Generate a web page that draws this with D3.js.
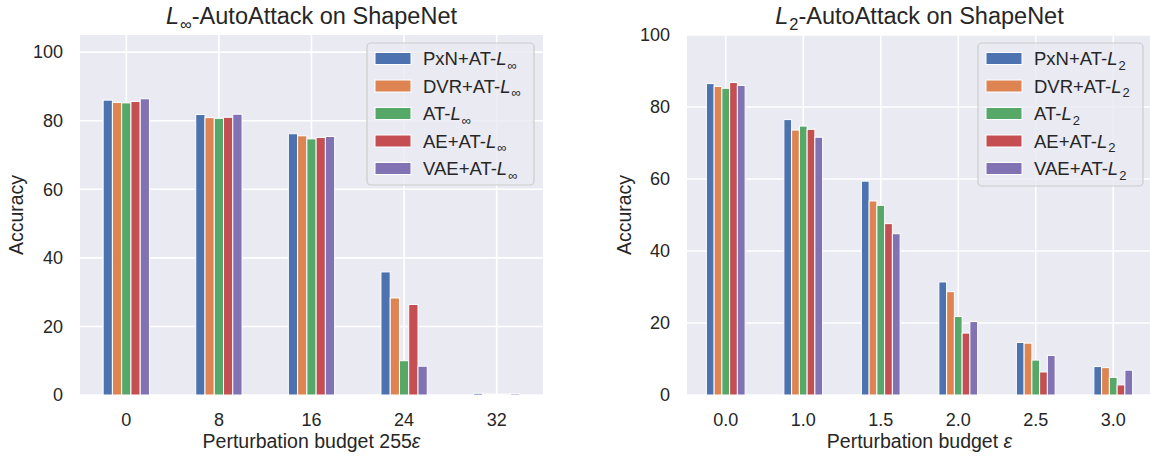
<!DOCTYPE html>
<html lang="en">
<head>
<meta charset="UTF-8">
<title>AutoAttack on ShapeNet</title>
<script src="https://d3js.org/d3.v7.min.js"></script>
<style>
    body { margin: 0; padding: 0; background: white; }
    svg { display: block; font-family: "Liberation Sans", Arial, sans-serif; }
</style>
</head>
<body>
<svg id="chart" width="1150" height="458"></svg>
<script>
// data
const series = ["PxN", "DVR", "AT", "AE", "VAE"]
const colors = ["#4C72B0", "#DD8452", "#55A868", "#C44E52", "#8172B3"]

const linfBudgets = ["0", "8", "16", "24", "32"]
const linfPxN = [86.0, 81.8, 76.2, 35.9, 0.5]
const linfDVR = [85.3, 80.9, 75.6, 28.3, 0.3]
const linfAT  = [85.2, 80.7, 74.7, 10.0, 0.2]
const linfAE  = [85.6, 81.0, 75.1, 26.4, 0.3]
const linfVAE = [86.4, 81.9, 75.4, 8.4, 0.4]

const l2Budgets = ["0.0", "1.0", "1.5", "2.0", "2.5", "3.0"]
const l2PxN = [86.5, 76.5, 59.4, 31.4, 14.6, 7.9]
const l2DVR = [85.7, 73.6, 53.9, 28.7, 14.4, 7.6]
const l2AT  = [85.2, 74.7, 52.7, 21.8, 9.7, 4.9]
const l2AE  = [86.8, 73.8, 47.6, 17.2, 6.4, 2.8]
const l2VAE = [86.0, 71.6, 44.8, 20.4, 11.0, 6.9]

const yTicks = [0, 20, 40, 60, 80, 100]

const svg = d3.select("#chart")
const textColor = "#262626"

// L with a subscript, as in mathtext
function mathText(sel, before, sub, after, size) {
    if (before) sel.append("tspan").text(before)
    sel.append("tspan").attr("font-style", "italic").text("L")
    const shift = size * 0.25
    sel.append("tspan").attr("font-size", size * 0.7).attr("dx", 1).attr("dy", shift).text(sub)
    if (after) sel.append("tspan").attr("dy", -shift).text(after)
}

function drawPanel(opt) {
    const { left, right, top, bottom } = opt
    const values = [opt.pxn, opt.dvr, opt.at, opt.ae, opt.vae]

    const g = svg.append("g")

    const xScale = d3.scaleBand()
        .domain(opt.cats)
        .range([left, right])
        .paddingInner(0).paddingOuter(0)
    const unit = xScale.bandwidth()

    const xInner = d3.scaleBand()
        .domain(series)
        .range([unit * 0.25, unit * 0.75])

    const yScale = d3.scaleLinear()
        .domain([0, opt.ymax])
        .range([bottom, top])

    // background + grid
    g.append("rect")
        .attr("x", left).attr("y", top)
        .attr("width", right - left).attr("height", bottom - top)
        .attr("fill", "#EAEAF2")

    g.append("g").selectAll("line")
        .data(yTicks)
        .join("line")
        .attr("x1", left).attr("x2", right)
        .attr("y1", d => yScale(d)).attr("y2", d => yScale(d))
        .attr("stroke", "white").attr("stroke-width", 1.6)

    g.append("g").selectAll("line")
        .data(opt.cats)
        .join("line")
        .attr("x1", d => xScale(d) + unit / 2).attr("x2", d => xScale(d) + unit / 2)
        .attr("y1", top).attr("y2", bottom)
        .attr("stroke", "white").attr("stroke-width", 1.6)

    // bars
    series.forEach((s, si) => {
        g.append("g").selectAll("rect")
            .data(values[si])
            .join("rect")
            .attr("x", (d, i) => xScale(opt.cats[i]) + xInner(s))
            .attr("y", d => yScale(d))
            .attr("width", xInner.bandwidth())
            .attr("height", d => bottom - yScale(d))
            .attr("fill", colors[si])
            .attr("stroke", "white")
            .attr("stroke-width", 1)
    })

    // axes
    const xAxis = g.append("g")
        .attr("transform", `translate(0,${bottom})`)
        .call(d3.axisBottom(xScale).tickSize(0).tickPadding(18))
    xAxis.select(".domain").remove()
    xAxis.selectAll("text")
        .attr("font-size", 18).attr("fill", textColor)
        .attr("font-family", "Liberation Sans, Arial, sans-serif")

    const yAxis = g.append("g")
        .attr("transform", `translate(${left},0)`)
        .call(d3.axisLeft(yScale).tickValues(yTicks).tickSize(0).tickPadding(17))
    yAxis.select(".domain").remove()
    yAxis.selectAll("text")
        .attr("font-size", 18).attr("fill", textColor)
        .attr("font-family", "Liberation Sans, Arial, sans-serif")

    // labels
    const xLabel = g.append("text")
        .attr("x", (left + right) / 2).attr("y", 448)
        .attr("text-anchor", "middle")
        .attr("font-size", 19.5).attr("fill", textColor)
    xLabel.append("tspan").text(opt.xlabel)
    xLabel.append("tspan").attr("font-style", "italic").text("ε")

    g.append("text")
        .attr("transform", `translate(${opt.ylabelX},${(top + bottom) / 2}) rotate(-90)`)
        .attr("text-anchor", "middle")
        .attr("font-size", 19.5).attr("fill", textColor)
        .text("Accuracy")

    const title = g.append("text")
        .attr("x", (left + right) / 2)
        .attr("y", 24)
        .attr("text-anchor", "middle")
        .attr("font-size", 23.5).attr("fill", textColor)
    mathText(title, "", opt.sub, "-AutoAttack on ShapeNet", 23.5)

    // legend
    const lg = opt.legend
    g.append("rect")
        .attr("x", lg.x).attr("y", lg.y)
        .attr("width", lg.w).attr("height", lg.h)
        .attr("rx", 4)
        .attr("fill", "#EAEAF2").attr("fill-opacity", 0.8)
        .attr("stroke", "#cccccc").attr("stroke-width", 1.2)

    const names = ["PxN+AT-", "DVR+AT-", "AT-", "AE+AT-", "VAE+AT-"]
    names.forEach((n, i) => {
        const cy = lg.y + 15.5 + i * 27.5
        g.append("rect")
            .attr("x", lg.x + 8).attr("y", cy - 6)
            .attr("width", 36).attr("height", 12)
            .attr("fill", colors[i])
            .attr("stroke", "white").attr("stroke-width", 1)
        const t = g.append("text")
            .attr("x", lg.x + 56).attr("y", cy + 6.5)
            .attr("font-size", 18.5).attr("fill", textColor)
        mathText(t, n, opt.sub, "", 18.5)
    })
}

drawPanel({
    left: 80, right: 543, top: 35, bottom: 395, ymax: 105,
    cats: linfBudgets,
    pxn: linfPxN, dvr: linfDVR, at: linfAT, ae: linfAE, vae: linfVAE,
    sub: "∞", xlabel: "Perturbation budget 255", ylabelX: 23,
    legend: { x: 367, y: 43, w: 167, h: 142 }
})

drawPanel({
    left: 687, right: 1152, top: 35, bottom: 395, ymax: 100,
    cats: l2Budgets,
    pxn: l2PxN, dvr: l2DVR, at: l2AT, ae: l2AE, vae: l2VAE,
    sub: "2", xlabel: "Perturbation budget ", ylabelX: 631,
    legend: { x: 978, y: 43, w: 165, h: 143 }
})
</script>
</body>
</html>
